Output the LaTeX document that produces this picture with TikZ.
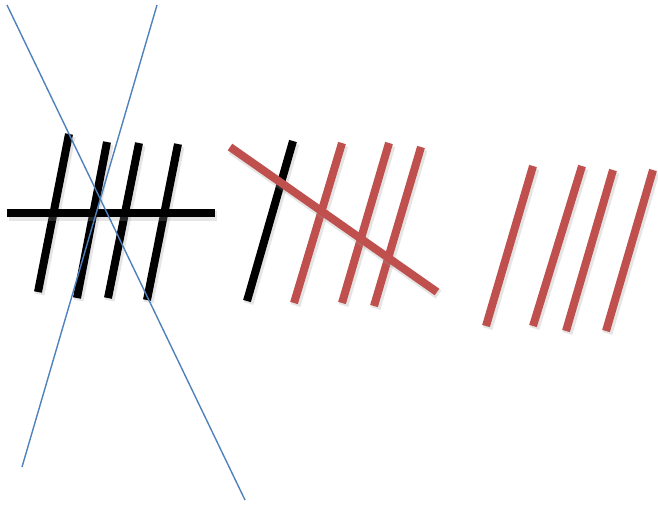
\documentclass[tikz,border=0pt]{standalone}
\definecolor{tallyred}{HTML}{C0504D}
\definecolor{crossblue}{HTML}{4F81BD}
\tikzset{
  shadowed/.style={preaction={draw=black!40,opacity=0.25,line width=10pt,transform canvas={shift={(1.5pt,-2.5pt)}}}},
  blackstroke/.style={draw=black,line width=8pt,line cap=butt,shadowed},
  redstroke/.style={draw=tallyred,line width=8pt,line cap=butt,shadowed},
  crossline/.style={draw=crossblue,line width=1.4pt}
}
\begin{document}
\begin{tikzpicture}[x=1pt,y=-1pt]
\useasboundingbox (0,0) rectangle (658,504);
% group 1
\draw[blackstroke] (69,134) -- (38,292);
\draw[blackstroke] (107,142) -- (77,298);
\draw[blackstroke] (139,143) -- (108,298);
\draw[blackstroke] (178,144) -- (147,300);
\draw[blackstroke] (7,213) -- (215,213);
\draw[crossline] (7,5) -- (245,500);
\draw[crossline] (157,5) -- (22,467);
% group 2
\draw[blackstroke] (293,141) -- (247,301);
\draw[redstroke] (342,143) -- (294,303);
\draw[redstroke] (389,143) -- (342,303);
\draw[redstroke] (421,147) -- (374,306);
\draw[redstroke] (230,147) -- (437,292);
% group 3
\draw[redstroke] (533,166) -- (486,326);
\draw[redstroke] (582,166) -- (533,326);
\draw[redstroke] (613,170) -- (566,331);
\draw[redstroke] (653,170) -- (606,331);
\end{tikzpicture}
\end{document}
